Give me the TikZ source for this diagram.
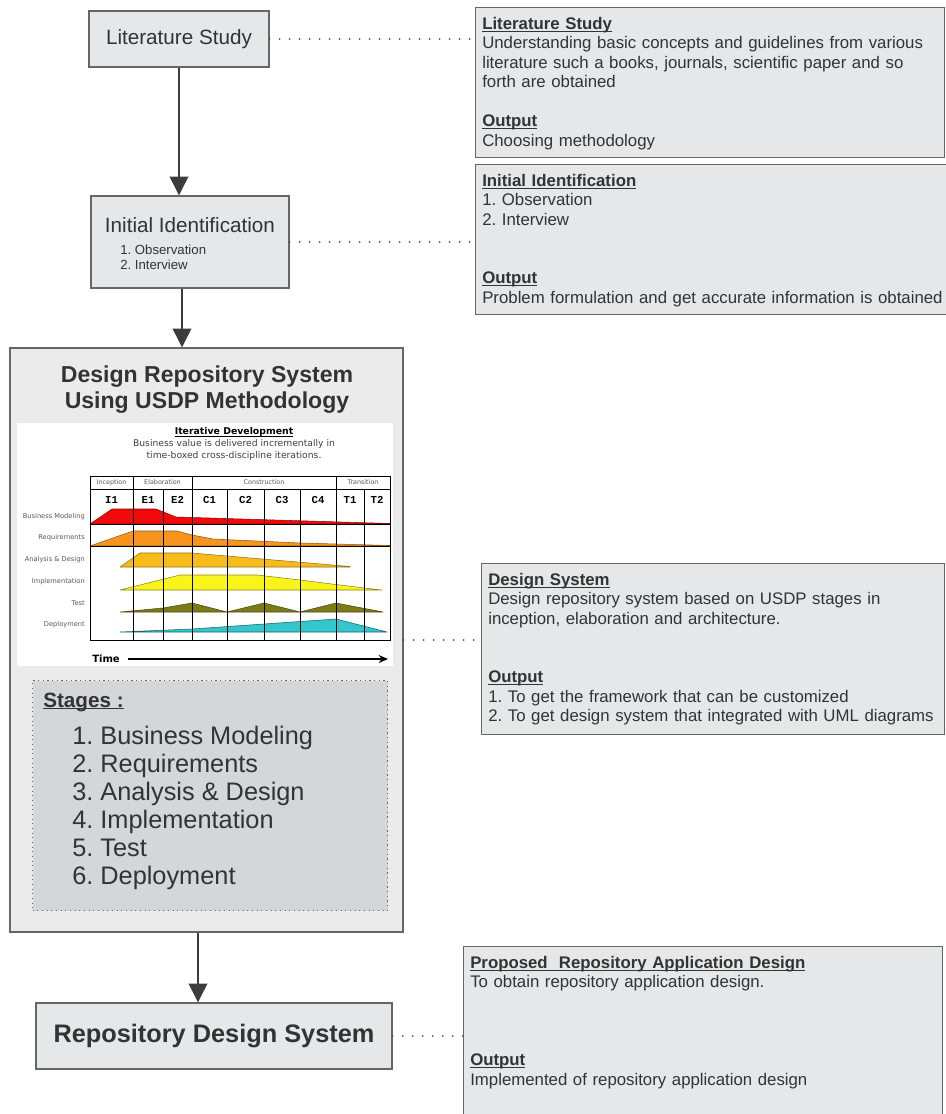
\documentclass[tikz,border=0pt]{standalone}
\usepackage{fontspec}
\setmainfont{Liberation Sans}
\newfontfamily\chartfont{DejaVu Sans}
\newfontfamily\iterfont{Liberation Mono}
\usetikzlibrary{arrows.meta,positioning,calc}
\definecolor{rsLine}{HTML}{666666}
\definecolor{rsFill}{HTML}{E6E7E8}
\definecolor{rsOuter}{HTML}{EBEBEB}
\definecolor{rsStage}{HTML}{D5D6D8}
\definecolor{rsText}{HTML}{333333}
\definecolor{rsArrow}{HTML}{3C3C3C}
\definecolor{usBM}{HTML}{F00A0A}
\definecolor{usRQ}{HTML}{F7941D}
\definecolor{usAD}{HTML}{F8BC1A}
\definecolor{usIM}{HTML}{FBF41A}
\definecolor{usTS}{HTML}{7D7A1A}
\definecolor{usDP}{HTML}{33C6CC}
\newcommand\ulhead[1]{\setbox0\hbox{#1}\leavevmode\rlap{\rule[-1.7pt]{\wd0}{0.6pt}}\box0}
\frenchspacing

\begin{document}
\begin{tikzpicture}[
  x=0.75pt,y=-0.75pt,
  flowbox/.style={draw=rsLine,fill=rsFill,line width=1.1pt,text=rsText,
    font=\fontsize{15.5}{18}\selectfont,inner sep=0pt},
  notebox/.style={draw=rsLine,fill=rsFill,line width=1.1pt,anchor=north west,inner sep=0pt},
  notetext/.style={anchor=north west,inner sep=0pt,align=left,text=rsText,
    font=\fontsize{12.6}{14.6}\selectfont},
  ar/.style={-{Triangle[length=14pt,width=14pt]},draw=rsArrow,fill=rsArrow,line width=1pt},
  dots/.style={draw=rsLine!85!black,line width=1.5pt,dash pattern=on 0pt off 7.5pt,line cap=round},
  rowlab/.style={anchor=east,inner sep=0pt,font=\chartfont\fontsize{5}{6}\selectfont,text=black!65},
  phaselab/.style={inner sep=0pt,font=\chartfont\fontsize{4.8}{6}\selectfont,text=black!65},
  iterlab/.style={inner sep=0pt,font=\iterfont\bfseries\fontsize{8}{9}\selectfont},
  hump/.style={line width=0.4pt,line join=round}
]
\useasboundingbox[fill=white] (0,0) rectangle (946,1114);

% left column of the flow
\node[flowbox,minimum width=135pt,minimum height=42pt] (lit) at (179,39) {Literature Study};
\node[flowbox,minimum width=148.5pt,minimum height=69pt] (init) at (190,242) {};
\node[inner sep=0pt,text=rsText,font=\fontsize{15.5}{18}\selectfont,anchor=base]
  (inittitle) at (190,232) {Initial Identification};
\node[inner sep=0pt,text=rsText,font=\fontsize{9.9}{11.25}\selectfont,align=left,anchor=north west]
  (initlist) at (120,245) {1. Observation\\2. Interview};

\node[draw=rsLine,fill=rsOuter,line width=1.1pt,minimum width=294.75pt,minimum height=438pt,inner sep=0pt]
  (design) at (206.5,640) {};
\node[align=center,text=rsText,inner sep=0pt,font=\fontsize{17.3}{19.5}\selectfont\bfseries]
  (dstitle) at (207,390) {Design Repository System\\Using USDP Methodology};

% iterative development chart
\fill[white] (17,423) rectangle (393,666);
\node[inner sep=0pt,font=\chartfont\bfseries\fontsize{7}{9}\selectfont] (chtitle) at (234,432)
  {\ulhead{Iterative Development}};
\node[inner sep=0pt,align=center,text=black!75,font=\chartfont\fontsize{6.9}{9}\selectfont]
  (chsub) at (234,450) {Business value is delivered incrementally in\\time-boxed cross-discipline iterations.};

\filldraw[hump,fill=usBM,draw=usBM!60!black] (90,524) -- (112,509) -- (156,509) -- (176,517)
  -- (390,523.5) -- (390,524) -- cycle;
\filldraw[hump,fill=usRQ,draw=usRQ!60!black] (90,546) -- (133,531) -- (177,531) -- (192,535)
  -- (213,539) -- (300,543) -- (390,545.5) -- (390,546) -- cycle;
\filldraw[hump,fill=usAD,draw=usAD!60!black] (120,567) -- (140,553) -- (192,553)
  -- (350,566.5) -- (350,567) -- cycle;
\filldraw[hump,fill=usIM,draw=usIM!55!black] (120,590) -- (180,575) -- (257,575) -- (300,580)
  -- (364,588) -- (382,590) -- cycle;
\filldraw[hump,fill=usTS,draw=usTS!60!black] (120,612) -- (163,608) -- (192,603) -- (227,612)
  -- (264,603) -- (300,612) -- (336,603) -- (383,612) -- cycle;
\filldraw[hump,fill=usDP,draw=usDP!50!black] (120,632) -- (192,629) -- (336,619)
  -- (387,632) -- cycle;

\draw[line width=0.5pt] (90,476) rectangle (390,640);
\draw[line width=0.5pt] (90,489) -- (390,489) (90,524) -- (390,524) (90,546) -- (390,546);
\foreach \xv in {133,192,336}
  \draw[line width=0.5pt] (\xv,476) -- (\xv,640);
\foreach \xv in {163,227,264,300,364}
  \draw[line width=0.5pt] (\xv,489) -- (\xv,640);

\node[phaselab] (phI) at (111.5,482.5) {Inception};
\node[phaselab] (phE) at (162.5,482.5) {Elaboration};
\node[phaselab] (phC) at (264,482.5) {Construction};
\node[phaselab] (phT) at (363,482.5) {Transition};
\foreach \xc/\lab in {111.5/I1,148/E1,177.5/E2,209.5/C1,245.5/C2,282/C3,318/C4,350/T1,377/T2}
  \node[iterlab] (it\lab) at (\xc,500) {\lab};

\node[rowlab] (rBM) at (85,517) {Business Modeling};
\node[rowlab] (rRQ) at (85,538) {Requirements};
\node[rowlab] (rAD) at (85,560) {Analysis \& Design};
\node[rowlab] (rIM) at (85,582) {Implementation};
\node[rowlab] (rTS) at (85,603) {Test};
\node[rowlab] (rDP) at (85,625) {Deployment};

\node[inner sep=0pt,anchor=west,font=\chartfont\bfseries\fontsize{7.5}{9}\selectfont] (time) at (92,659) {Time};
\coordinate (timeend) at (388,659);
\draw[-{Stealth[length=7pt,width=6pt]},line width=1pt] ($(time.east)+(8,0)$) -- (timeend);

% stages
\node[draw=rsLine,fill=rsStage,line width=0.9pt,dash pattern=on 0.9pt off 2.6pt,anchor=north west,
  minimum width=266.25pt,minimum height=172.5pt,inner sep=0pt] (stages) at (32,680) {};
\node[inner sep=0pt,anchor=base west,text=rsText,font=\fontsize{15.5}{18}\selectfont\bfseries]
  (stageshead) at (43,707) {\ulhead{Stages :}};
\node[inner sep=0pt,anchor=north west,align=left,text=rsText,font=\fontsize{19}{21}\selectfont]
  (stagelist) at (72,725.5) {1. Business Modeling\\2. Requirements\\3. Analysis \& Design\\
  4. Implementation\\5. Test\\6. Deployment};

\node[flowbox,font=\fontsize{19}{22}\selectfont\bfseries,minimum width=267pt,minimum height=49.5pt]
  (rep) at (214,1036) {Repository Design System};

% notes on the right
\node[notebox,minimum width=351.75pt,minimum height=112.5pt] (litnote) at (475,7) {};
\node[notetext,text width=400pt] (littext) at ($(litnote.north west)+(7,10)$)
  {\ulhead{\textbf{Literature Study}}\\
   Understanding basic concepts and guidelines from various\\
   literature such a books, journals, scientific paper and so\\
   forth are obtained\\[14.6pt]
   \ulhead{\textbf{Output}}\\
   Choosing methodology};

\node[notebox,minimum width=365.25pt,minimum height=112.5pt] (initnote) at (475,164) {};
\node[notetext,text width=400pt] (inittext) at ($(initnote.north west)+(7,10)$)
  {\ulhead{\textbf{Initial Identification}}\\
   1. Observation\\
   2. Interview\\[29.2pt]
   \ulhead{\textbf{Output}}\\
   Problem formulation and get accurate information is obtained};

\node[notebox,minimum width=347.25pt,minimum height=128.25pt] (dsnote) at (481,563) {};
\node[notetext,text width=400pt] (dstext) at ($(dsnote.north west)+(7,10)$)
  {\ulhead{\textbf{Design System}}\\
   Design repository system based on USDP stages in\\
   inception, elaboration and architecture.\\[29.2pt]
   \ulhead{\textbf{Output}}\\
   1. To get the framework that can be customized\\
   2. To get design system that integrated with UML diagrams};

\node[notebox,minimum width=359.25pt,minimum height=133.5pt] (propnote) at (463,946) {};
\node[notetext,text width=400pt] (proptext) at ($(propnote.north west)+(7,10)$)
  {\ulhead{\textbf{Proposed\ \ Repository Application Design}}\\
   To obtain repository application design.\\[43.8pt]
   \ulhead{\textbf{Output}}\\
   Implemented of repository application design};

% connectors
\coordinate (initout) at ($(init.south)+(-8,0)$);
\coordinate (dsout) at ($(design.south)+(-8.5,0)$);
\draw[ar] (lit.south) -- (lit.south |- init.north);
\draw[ar] (initout) -- (initout |- design.north);
\draw[ar] (dsout) -- (dsout |- rep.north);
\draw[dots] (lit.east) -- (lit.east -| litnote.west);
\draw[dots] (init.east) -- (init.east -| initnote.west);
\draw[dots] (design.east) -- (design.east -| dsnote.west);
\draw[dots] (rep.east) -- (rep.east -| propnote.west);
\end{tikzpicture}
\end{document}
